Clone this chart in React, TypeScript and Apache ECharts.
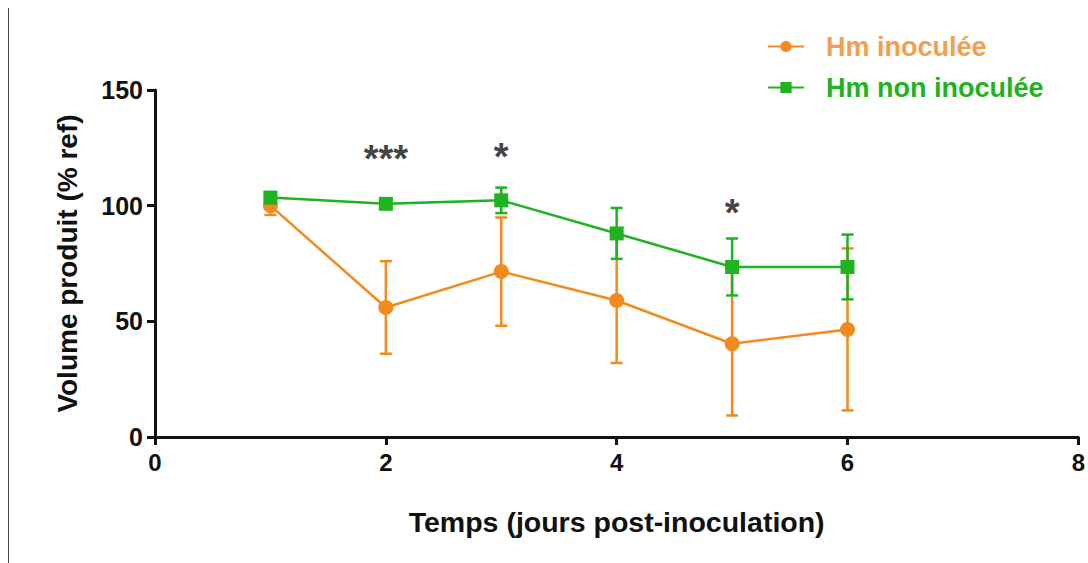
import React, { useEffect, useRef } from "react";
import * as echarts from "echarts";

const days = [1, 2, 3, 4, 5, 6];
const inocMean = [100, 56, 71.5, 59, 40.3, 46.5];
const inocErr = [4, 20, 23.4, 27, 31, 35];
const nonInocMean = [103.5, 100.8, 102.3, 88, 73.5, 73.5];
const nonInocErr = [2, 1.5, 5.5, 11, 12.3, 14];
const signifDays = [2, 3, 5];
const signifY = [120, 121, 97];
const signifLabels = ["***", "*", "*"];
const xTicks = [0, 2, 4, 6, 8];
const yTicks = [0, 50, 100, 150];

const ORANGE = "#F28A1E";
const GREEN = "#1FB31F";
const FONT = "Liberation Sans, Arial, sans-serif";

function errRender(color: string) {
  return (params: any, api: any) => {
    const x = api.value(0);
    const m = api.value(1);
    const e = api.value(2);
    const top = api.coord([x, m + e]);
    const bot = api.coord([x, m - e]);
    const hw = 6;
    const style = { stroke: color, lineWidth: 2.5 };
    return {
      type: "group",
      children: [
        { type: "line", shape: { x1: top[0], y1: top[1], x2: bot[0], y2: bot[1] }, style },
        { type: "line", shape: { x1: top[0] - hw, y1: top[1], x2: top[0] + hw, y2: top[1] }, style },
        { type: "line", shape: { x1: bot[0] - hw, y1: bot[1], x2: bot[0] + hw, y2: bot[1] }, style },
      ],
    };
  };
}

export default function App() {
  const ref = useRef<HTMLDivElement>(null);
  useEffect(() => {
    if (!ref.current) return;
    const chart = echarts.init(ref.current, null, { renderer: "svg" });
    const axisLine = { show: true, lineStyle: { color: "#111", width: 3 } };
    chart.setOption({
      animation: false,
      backgroundColor: "#fff",
      grid: { left: 155, right: 8, top: 90, bottom: 126 },
      legend: {
        orient: "vertical",
        left: 762,
        top: 28,
        itemWidth: 36,
        itemHeight: 14,
        itemGap: 14,
        data: [
          { name: "Hm inoculée", textStyle: { color: "#F0A050" } },
          { name: "Hm non inoculée", textStyle: { color: GREEN } },
        ],
        textStyle: { fontFamily: FONT, fontWeight: "bold", fontSize: 27, padding: [0, 0, 0, 17] },
      },
      xAxis: {
        type: "value",
        min: xTicks[0],
        max: xTicks[xTicks.length - 1],
        interval: 2,
        name: "Temps (jours post-inoculation)",
        nameLocation: "middle",
        nameGap: 70,
        nameTextStyle: { fontFamily: FONT, fontWeight: "bold", fontSize: 28.5, color: "#111" },
        axisLine,
        axisTick: { show: true, length: 8, lineStyle: { color: "#111", width: 3 } },
        axisLabel: { fontFamily: FONT, fontWeight: "bold", fontSize: 24, color: "#111", margin: 13 },
        splitLine: { show: false },
      },
      yAxis: {
        type: "value",
        min: yTicks[0],
        max: yTicks[yTicks.length - 1],
        interval: 50,
        name: "Volume produit (% ref)",
        nameLocation: "middle",
        nameGap: 74,
        nameTextStyle: { fontFamily: FONT, fontWeight: "bold", fontSize: 28, color: "#111" },
        axisLine,
        axisTick: { show: true, length: 8, lineStyle: { color: "#111", width: 3 } },
        axisLabel: { fontFamily: FONT, fontWeight: "bold", fontSize: 25, color: "#111", margin: 12 },
        splitLine: { show: false },
      },
      graphic: [
        {
          type: "line",
          shape: { x1: 8.5, y1: 8, x2: 8.5, y2: 563 },
          style: { stroke: "#444", lineWidth: 1 },
        },
      ],
      series: [
        {
          type: "custom",
          name: "errInoc",
          renderItem: errRender(ORANGE),
          data: days.map((d, i) => [d, inocMean[i], inocErr[i]]),
          z: 1,
          silent: true,
        },
        {
          type: "custom",
          name: "errNonInoc",
          renderItem: errRender(GREEN),
          data: days.map((d, i) => [d, nonInocMean[i], nonInocErr[i]]),
          z: 2,
          silent: true,
        },
        {
          type: "line",
          name: "Hm inoculée",
          data: days.map((d, i) => [d, inocMean[i]]),
          symbol: "circle",
          symbolSize: 15,
          itemStyle: { color: ORANGE },
          lineStyle: { color: ORANGE, width: 2.5 },
          z: 3,
        },
        {
          type: "line",
          name: "Hm non inoculée",
          data: days.map((d, i) => [d, nonInocMean[i]]),
          symbol: "rect",
          symbolSize: 14,
          itemStyle: { color: GREEN },
          lineStyle: { color: GREEN, width: 2.5 },
          z: 4,
        },
        {
          type: "scatter",
          name: "signif",
          data: signifDays.map((d, i) => [d, signifY[i], signifLabels[i]]),
          symbolSize: 0,
          label: {
            show: true,
            position: "inside",
            formatter: (p: any) => p.value[2],
            fontFamily: FONT,
            fontWeight: "bold",
            fontSize: 38,
            color: "#111",
          },
          z: 5,
          silent: true,
        },
      ],
    });
    return () => chart.dispose();
  }, []);
  return (
    <div
      ref={ref}
      style={{ position: "absolute", left: 0, top: 0, width: 1088, height: 563 }}
    />
  );
}
